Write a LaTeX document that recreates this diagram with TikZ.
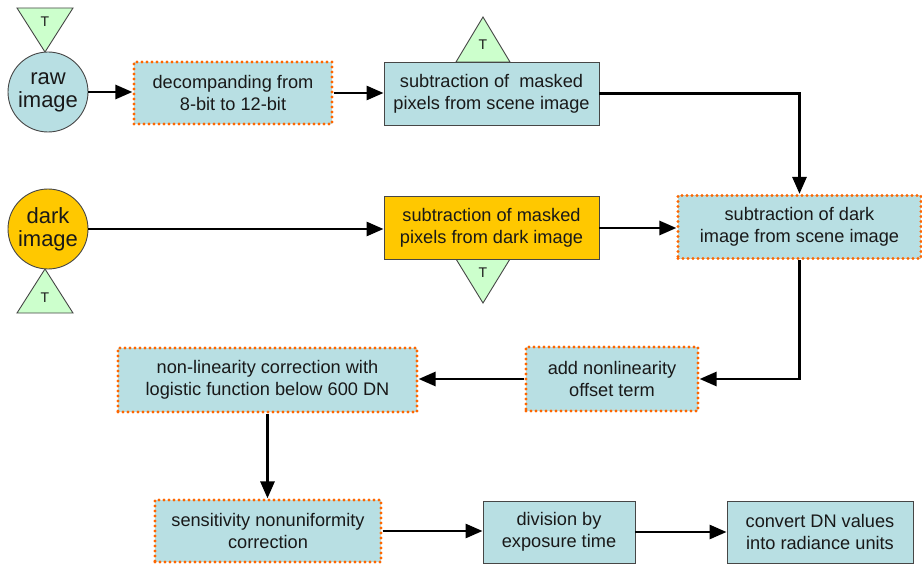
\documentclass[tikz,border=0pt]{standalone}
\usepackage{fontspec}
\setmainfont{Liberation Sans}
\usetikzlibrary{arrows.meta,calc}
\definecolor{boxblue}{RGB}{184,223,227}
\definecolor{dotorange}{RGB}{255,102,0}
\definecolor{darkyellow}{RGB}{255,200,0}
\definecolor{tgreen}{RGB}{204,255,204}
\definecolor{edgegray}{RGB}{70,70,70}
\definecolor{txt}{RGB}{25,25,25}
\tikzset{
  x=1pt,y=-1pt,
  base/.style={rectangle,align=center,inner sep=0pt,text=txt,
    font=\fontsize{18.2}{22}\selectfont},
  plainbox/.style={base,fill=boxblue,draw=edgegray,line width=0.9pt},
  dotbox/.style={base,fill=boxblue,draw=dotorange,line width=3.2pt,
    dash pattern=on 0pt off 5pt,line cap=round},
  darkbox/.style={base,fill=darkyellow,draw=edgegray,line width=0.9pt},
  src/.style={circle,inner sep=0pt,minimum size=80pt,draw=edgegray,line width=0.9pt,
    align=center,text=txt,font=\fontsize{22}{23}\selectfont},
  tri/.style={fill=tgreen,draw=edgegray,line width=0.9pt,line join=miter},
  tlabel/.style={inner sep=0pt,text=txt,font=\fontsize{14}{14}\selectfont},
  flow/.style={draw=black,line width=2.8pt,-{Triangle[length=17pt,width=14pt]}},
}
\begin{document}
\begin{tikzpicture}
\useasboundingbox (0,0) rectangle (922,567);
% triangles
\draw[tri] (17,8) -- (73,8) -- (45,52) -- cycle;
\node[tlabel] (t1) at (45,22) {T};
\draw[tri] (456,62) -- (510,62) -- (483,17) -- cycle;
\node[tlabel] (t2) at (483,45) {T};
\draw[tri] (456,259) -- (510,259) -- (483,303) -- cycle;
\node[tlabel] (t3) at (483,273) {T};
\draw[tri] (17,313) -- (73,313) -- (45,269) -- cycle;
\node[tlabel] (t4) at (45,298) {T};
% sources
\node[src,fill=boxblue] (raw) at (48,92) {raw\\image};
\node[src,fill=darkyellow] (dark) at (48,229) {dark\\image};
% boxes
\node[dotbox,minimum width=198pt,minimum height=62pt] (dec) at (233,93) {decompanding from\\8-bit to 12-bit};
\node[plainbox,minimum width=215pt,minimum height=63pt] (msc) at (491.5,93.5) {subtraction of \ masked\\pixels from scene image};
\node[darkbox,minimum width=215pt,minimum height=63pt] (mdk) at (491.5,228) {subtraction of masked\\pixels from dark image};
\node[dotbox,minimum width=243pt,minimum height=63pt] (scn) at (799.5,227) {subtraction of dark\\image from scene image};
\node[dotbox,minimum width=172pt,minimum height=64pt] (off) at (612,379) {add nonlinearity\\offset term};
\node[dotbox,minimum width=299pt,minimum height=64pt] (nl) at (267.5,380) {non-linearity correction with\\logistic function below 600 DN};
\node[dotbox,minimum width=226pt,minimum height=62pt] (sen) at (268,531) {sensitivity nonuniformity\\correction};
\node[plainbox,minimum width=152pt,minimum height=62pt] (div) at (559,532) {division by\\exposure time};
\node[plainbox,minimum width=186pt,minimum height=62pt] (cnv) at (820,532) {convert DN values\\into radiance units};
% connectors
\draw[flow] (raw.east) -- (raw.east -| dec.west);
\draw[flow] (dec.east) -- (dec.east -| msc.west);
\draw[flow] (msc.east) -| (scn.north);
\draw[flow] (dark.east) -- (dark.east -| mdk.west);
\draw[flow] (mdk.east) -- (mdk.east -| scn.west);
\draw[flow] (scn.south) |- (off.east);
\draw[flow] (off.west) -- (off.west -| nl.east);
\draw[flow] (nl.south) -- (nl.south |- sen.north);
\draw[flow] (sen.east) -- (sen.east -| div.west);
\draw[flow] (div.east) -- (div.east -| cnv.west);
\end{tikzpicture}
\end{document}
